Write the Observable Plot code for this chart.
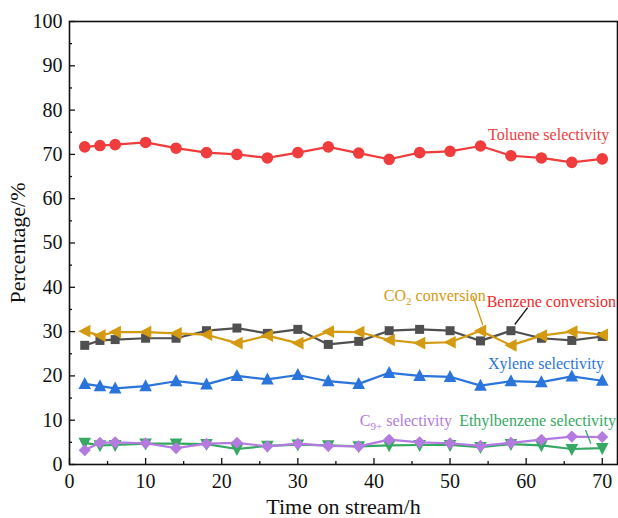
<!DOCTYPE html>
<html><head><meta charset="utf-8">
<script src="https://cdn.jsdelivr.net/npm/d3@7"></script>
<script src="https://cdn.jsdelivr.net/npm/@observablehq/plot@0.6"></script>
<style>body{margin:0;background:#fff}#chart{width:618px;height:518px}</style>
</head><body><div id="chart"></div>
<script>
const time = [2,4,6,10,14,18,22,26,30,34,38,42,46,50,54,58,62,66,70];
const toluene = [71.7,72.0,72.2,72.7,71.4,70.4,70.0,69.2,70.4,71.7,70.3,68.9,70.4,70.7,71.9,69.7,69.2,68.2,69.0];
const benzene = [26.9,28.0,28.2,28.5,28.5,30.2,30.8,29.6,30.5,27.1,27.8,30.2,30.5,30.2,27.9,30.2,28.5,28.0,28.9];
const co2 = [30.1,29.1,29.9,29.9,29.6,29.3,27.4,29.1,27.4,30.0,29.9,28.1,27.4,27.6,30.2,26.9,29.1,30.0,29.3];
const xylene = [18.2,17.7,17.2,17.7,18.8,18.1,20.0,19.2,20.2,18.8,18.2,20.7,20.0,19.8,17.8,18.8,18.6,19.9,18.9];
const ethylbenzene = [4.9,4.3,4.4,4.7,4.7,4.6,3.5,4.2,4.5,4.3,4.1,4.3,4.4,4.4,3.9,4.6,4.3,3.5,3.7];
const c9 = [3.2,4.9,5.0,4.8,3.7,4.7,4.9,4.1,4.7,4.2,4.1,5.6,5.0,4.8,4.2,4.9,5.6,6.3,6.2];

const xTicks = [0,10,20,30,40,50,60,70];
const yTicks = [0,10,20,30,40,50,60,70,80,90,100];

const labelText = ["Toluene selectivity","CO2 conversion","Benzene conversion","Xylene selectivity","C9+ selectivity","Ethylbenzene selectivity"];
const labelX = [70.9,48.0,71.8,62.6,44.2,71.8];
const labelY = [74.3,38.1,36.8,22.8,9.9,9.9];
const labelAnchor = ["end","middle","end","middle","middle","end"];
const labelColor = ["#f03c3c","#d49a12","#f02a2a","#2a74dc","#b37ae0","#35a862"];

const leaderX1 = [53.0,60.2,67.8], leaderY1 = [38.1,35.4,7.8];
const leaderX2 = [54.3,58.5,68.5], leaderY2 = [31.5,31.6,4.7];
const leaderColor = ["#d49a12","#111111","#35a862"];

const sqrtPi = s => Math.sqrt(s/Math.PI);
const symTriLeft = {draw(c,s){const r=sqrtPi(s);c.moveTo(-r*1.1,0);c.lineTo(r*0.95,-r*1.05);c.lineTo(r*0.95,r*1.05);c.closePath();}};
const symTriUp = {draw(c,s){const r=sqrtPi(s);c.moveTo(0,-r*1.15);c.lineTo(r*1.05,r*0.85);c.lineTo(-r*1.05,r*0.85);c.closePath();}};
const symTriDown = {draw(c,s){const r=sqrtPi(s);c.moveTo(0,r*1.15);c.lineTo(r*1.05,-r*0.85);c.lineTo(-r*1.05,-r*0.85);c.closePath();}};
const symSquare = {draw(c,s){const r=sqrtPi(s)*0.9;c.rect(-r,-r,2*r,2*r);}};
const symDiamond = {draw(c,s){const r=sqrtPi(s);c.moveTo(0,-r*1.1);c.lineTo(r*1.1,0);c.lineTo(0,r*1.1);c.lineTo(-r*1.1,0);c.closePath();}};
const symCircle = {draw(c,s){const r=sqrtPi(s);c.moveTo(r,0);c.arc(0,0,r,0,2*Math.PI);}};

const seriesDefs = [
  {name:"Benzene conversion", values:benzene, color:"#505050", symbol:symSquare, r:5},
  {name:"CO2 conversion", values:co2, color:"#d49a12", symbol:symTriLeft, r:6},
  {name:"Xylene selectivity", values:xylene, color:"#2a74dc", symbol:symTriUp, r:6},
  {name:"Ethylbenzene selectivity", values:ethylbenzene, color:"#35a862", symbol:symTriDown, r:6},
  {name:"C9+ selectivity", values:c9, color:"#b37ae0", symbol:symDiamond, r:5.5},
  {name:"Toluene selectivity", values:toluene, color:"#f03c3c", symbol:symCircle, r:5.8}
];

const marks = [];
for (const s of seriesDefs) {
  const rows = time.map((t,i)=>({t, v:s.values[i]}));
  marks.push(Plot.line(rows,{x:"t",y:"v",stroke:s.color,strokeWidth:2.2}));
  marks.push(Plot.dot(rows,{x:"t",y:"v",fill:s.color,stroke:"none",symbol:()=>s.symbol,r:s.r}));
}
const labels = labelText.map((t,i)=>({t,x:labelX[i],y:labelY[i],a:labelAnchor[i],c:labelColor[i]}));
const leaders = leaderX1.map((x,i)=>({x1:x,y1:leaderY1[i],x2:leaderX2[i],y2:leaderY2[i],c:leaderColor[i]}));
for (const a of ["start","middle","end"]) {
  marks.push(Plot.text(labels.filter(d=>d.a===a),{x:"x",y:"y",text:"t",fill:d=>d.c,textAnchor:a,fontSize:16}));
}
marks.push(Plot.link(leaders,{x1:"x1",y1:"y1",x2:"x2",y2:"y2",stroke:d=>d.c,strokeWidth:1.3}));

const plot = Plot.plot({
  width:618, height:518,
  marginLeft:69, marginRight:1, marginTop:21, marginBottom:54,
  style:{fontFamily:"'Liberation Serif', 'Times New Roman', serif", background:"#fff", color:"#111"},
  x:{domain:[0,72]},
  y:{domain:[0,100]},
  marks:[
    ...marks,
    Plot.axisX({ticks:xTicks, tickSize:-6, tickPadding:15, fontSize:20, label:null, strokeWidth:1.3}),
    Plot.axisX({ticks:d3.range(5,70,10), tickSize:-3, tickFormat:()=>"", label:null, strokeWidth:1.3}),
    Plot.axisY({ticks:yTicks, tickSize:-6, tickPadding:13, fontSize:20, label:null, strokeWidth:1.3}),
    Plot.axisY({ticks:d3.range(5,100,10), tickSize:-3, tickFormat:()=>"", label:null, strokeWidth:1.3}),
    Plot.frame({stroke:"#111", strokeWidth:1.6}),
    Plot.text(["Time on stream/h"],{frameAnchor:"bottom", dy:42, lineAnchor:"middle", textAnchor:"middle", text:d=>d, fontSize:22, fill:"#111"}),
    Plot.text(["Percentage/%"],{frameAnchor:"left", dx:-52, rotate:-90, lineAnchor:"middle", textAnchor:"middle", text:d=>d, fontSize:22, fill:"#111"})
  ]
});
document.getElementById("chart").appendChild(plot);

// subscripts
function subscriptify(full, base, sub, rest) {
  d3.select(plot).selectAll("text").each(function(){
    if (this.textContent === full) {
      const el = d3.select(this);
      el.text(null);
      el.append("tspan").text(base);
      el.append("tspan").attr("dy","4").style("font-size","11px").text(sub);
      el.append("tspan").attr("dy","-4").text(rest);
    }
  });
}
subscriptify("CO2 conversion","CO","2"," conversion");
subscriptify("C9+ selectivity","C","9+"," selectivity");
</script></body></html>
